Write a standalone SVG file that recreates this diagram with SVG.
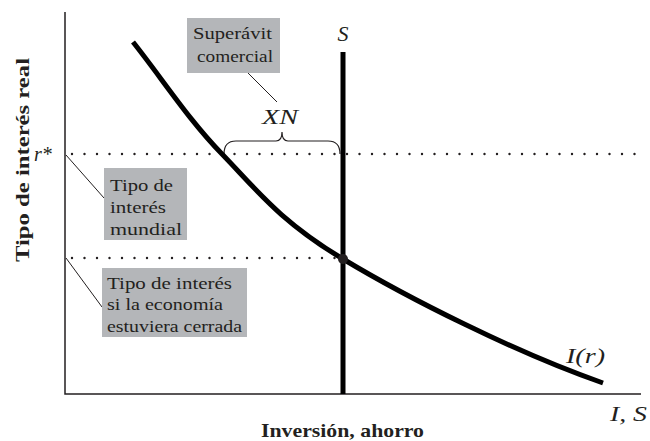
<svg xmlns="http://www.w3.org/2000/svg" width="650" height="441" viewBox="0 0 650 441">
<style>
.box{fill:#b4b6b9}
.bt{font-family:"Liberation Serif","DejaVu Serif",serif;font-size:17.5px;fill:#231f20}
.it{font-family:"Liberation Serif","DejaVu Serif",serif;font-style:italic;fill:#231f20}
.bold{font-family:"Liberation Serif","DejaVu Serif",serif;font-weight:bold;font-size:19.5px;fill:#231f20}
.lead{stroke:#231f20;stroke-width:1;fill:none}
.dots{stroke:#231f20;stroke-width:2.4;stroke-linecap:round;stroke-dasharray:0 12.5;fill:none}
</style>
<rect width="650" height="441" fill="#fff"/>
<g id="axes">
<path d="M65,12 V394 H641" stroke="#231f20" stroke-width="1.5" fill="none"/>
<text class="it" x="610" y="421" font-size="22" textLength="37" lengthAdjust="spacingAndGlyphs">I, S</text>
<text class="bold" x="261" y="437" textLength="163" lengthAdjust="spacingAndGlyphs">Inversión, ahorro</text>
<text class="bold" transform="translate(29,262) rotate(-90)" textLength="204" lengthAdjust="spacingAndGlyphs">Tipo de interés real</text>
</g>
<g id="connectors">
<path class="dots" d="M72,154 H641"/>
<path class="dots" d="M72,258 H338"/>
<path class="lead" d="M248,73 L277,102"/>
<path class="lead" d="M66,155 L104,198"/>
<path class="lead" d="M66,258 L102,307"/>
<path d="M224,154 Q224,141 236,141 H276 Q282,141 282,132 Q282,141 288,141 H328 Q340,141 340,154" stroke="#231f20" stroke-width="1.2" fill="none"/>
</g>
<g id="S">
<line x1="343" y1="52" x2="343" y2="394" stroke="#000" stroke-width="5"/>
<text class="it" x="343" y="41" font-size="22" text-anchor="middle">S</text>
</g>
<g id="I">
<path d="M133,42 C162.7,79.3 187,117.8 222,154 C257,190.2 279.5,220.8 343,259 C406.5,297.2 516.3,353 603,383" stroke="#000" stroke-width="5" fill="none"/>
<text class="it" x="566" y="363" font-size="22" textLength="39" lengthAdjust="spacingAndGlyphs">I(r)</text>
</g>
<g id="eq">
<circle cx="343" cy="259" r="5" fill="#231f20"/>
</g>
<g id="rstar">
<text class="it" x="34" y="161" font-size="20" fill="#3b3a1c">r*</text>
</g>
<g id="xn">
<text class="it" x="262" y="124" font-size="22" textLength="36" lengthAdjust="spacingAndGlyphs">XN</text>
</g>
<g id="superavit">
<rect class="box" x="187" y="18" width="93" height="55"/>
<text class="bt" x="193" y="39" textLength="79" lengthAdjust="spacingAndGlyphs">Superávit</text>
<text class="bt" x="197" y="62" textLength="76" lengthAdjust="spacingAndGlyphs">comercial</text>
</g>
<g id="mundial">
<rect class="box" x="104" y="168" width="83" height="72"/>
<text class="bt" x="110" y="191" textLength="63" lengthAdjust="spacingAndGlyphs">Tipo de</text>
<text class="bt" x="110" y="213" textLength="56" lengthAdjust="spacingAndGlyphs">interés</text>
<text class="bt" x="110" y="235" textLength="72" lengthAdjust="spacingAndGlyphs">mundial</text>
</g>
<g id="cerrada">
<rect class="box" x="102" y="268" width="145" height="69"/>
<text class="bt" x="107" y="289" textLength="125" lengthAdjust="spacingAndGlyphs">Tipo de interés</text>
<text class="bt" x="107" y="310" textLength="116" lengthAdjust="spacingAndGlyphs">si la economía</text>
<text class="bt" x="107" y="332" textLength="135" lengthAdjust="spacingAndGlyphs">estuviera cerrada</text>
</g>
</svg>
